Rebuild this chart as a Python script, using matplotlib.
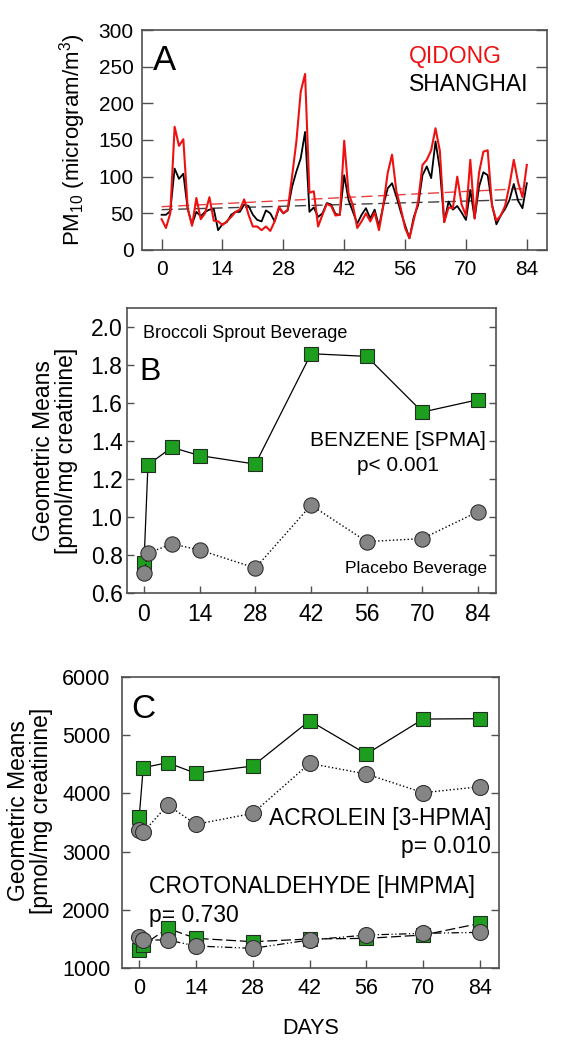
import numpy as np
import matplotlib
matplotlib.use('Agg')
import matplotlib.pyplot as plt

plt.rcParams['font.family'] = ['Liberation Sans', 'DejaVu Sans']
plt.rcParams['mathtext.fontset'] = 'custom'
plt.rcParams['mathtext.rm'] = 'Liberation Sans'
plt.rcParams['mathtext.it'] = 'Liberation Sans:italic'

# ---- panel A : daily PM10 ----
pm_days = np.arange(0, 85)
qidong = [42, 30, 50, 168, 142, 151, 57, 33, 71, 42, 50, 72, 40, 39, 34, 39, 45, 52, 55, 69,
          48, 32, 32, 27, 32, 26, 39, 59, 50, 55, 100, 148, 216, 240, 78, 80, 32, 48, 63, 60,
          47, 48, 149, 77, 61, 30, 39, 50, 39, 51, 27, 61, 105, 130, 80, 57, 30, 16, 41, 66,
          116, 123, 136, 166, 135, 38, 58, 57, 100, 62, 47, 123, 43, 105, 134, 136, 60, 40, 47, 60,
          88, 123, 92, 72, 116]
shanghai = [48, 48, 53, 111, 97, 104, 56, 35, 52, 46, 52, 55, 56, 27, 35, 38, 48, 52, 52, 62,
            60, 48, 41, 39, 54, 50, 39, 57, 50, 54, 86, 107, 125, 161, 52, 58, 45, 50, 64, 62,
            49, 48, 102, 68, 52, 36, 48, 57, 43, 55, 32, 61, 84, 91, 73, 52, 34, 16, 45, 61,
            102, 114, 98, 148, 110, 38, 66, 55, 60, 51, 41, 82, 43, 86, 106, 102, 62, 35, 47, 56,
            68, 90, 67, 57, 91]
trend_days = [0, 84]
qidong_trend = [59, 84]
shanghai_trend = [55, 69]

# ---- panels B, C : geometric means ----
visit_days = [0, 1, 7, 14, 28, 42, 56, 70, 84]
spma_broccoli = [0.758, 1.276, 1.368, 1.325, 1.280, 1.861, 1.847, 1.554, 1.619]
spma_placebo = [0.709, 0.811, 0.860, 0.828, 0.733, 1.064, 0.872, 0.888, 1.030]
hpma_broccoli = [3589, 4440, 4526, 4343, 4469, 5246, 4674, 5274, 5280]
hpma_placebo = [3371, 3331, 3800, 3469, 3657, 4514, 4331, 4011, 4114]
hmpma_broccoli = [1314, 1400, 1686, 1514, 1457, 1503, 1514, 1571, 1771]
hmpma_placebo = [1543, 1486, 1486, 1383, 1343, 1486, 1571, 1600, 1617]
xticks = [0, 14, 28, 42, 56, 70, 84]

green = '#1e9e1e'
grey = '#858585'
spine_c = '#505050'

fig = plt.figure(figsize=(5.75, 10.49), dpi=100)


def style(ax, size, ticklen, pad):
    for s in ax.spines.values():
        s.set_color(spine_c)
        s.set_linewidth(1.2)
    ax.tick_params(direction='in', length=ticklen, width=1.0, color=spine_c,
                   labelsize=size, right=True, top=False, pad=pad)
    ax.set_xticks(xticks)


# A
axA = fig.add_axes([0.247, 0.7617, 0.704, 0.2097])
axA.plot(trend_days, qidong_trend, color='#e84040', lw=1.0, dashes=(8, 4))
axA.plot(trend_days, shanghai_trend, color='#404040', lw=1.0, dashes=(8, 4))
axA.plot(pm_days, shanghai, color='black', lw=1.3)
axA.plot(pm_days, qidong, color='#ee1111', lw=1.5)
axA.set_xlim(-4.5, 88.6)
axA.set_ylim(0, 300)
axA.set_yticks(range(0, 301, 50))
style(axA, 15, 8, 6)
axA.set_ylabel('PM$_{10}$ (microgram/m$^3$)', fontsize=16)
axA.yaxis.set_label_coords(-0.133, 0.5)
axA.text(0.027, 0.818, 'A', transform=axA.transAxes, fontsize=25)
axA.text(0.66, 0.85, 'QIDONG', transform=axA.transAxes, fontsize=16.5, color='#ee1111')
axA.text(0.66, 0.724, 'SHANGHAI', transform=axA.transAxes, fontsize=16.5, color='black')

# B
axB = fig.add_axes([0.2203, 0.4344, 0.6417, 0.2717])
axB.plot(visit_days, spma_broccoli, color='black', lw=0.9, marker='s', ms=9.5,
         mfc=green, mec='#203020', mew=0.8)
axB.plot(visit_days, spma_placebo, color='black', lw=1.0, ls=':', marker='o', ms=11,
         mfc=grey, mec='#303030', mew=0.8)
axB.set_xlim(-4.35, 88.4)
axB.set_ylim(0.6, 2.1)
axB.set_yticks(np.arange(0.6, 2.01, 0.2))
axB.set_yticklabels(['%.1f' % v for v in np.arange(0.6, 2.01, 0.2)])
style(axB, 16.5, 5, 3)
axB.set_ylabel('Geometric Means\n[pmol/mg creatinine]', fontsize=16.5, linespacing=1.0)
axB.yaxis.set_label_coords(-0.132, 0.5)
axB.text(0.043, 0.895, 'Broccoli Sprout Beverage', transform=axB.transAxes, fontsize=13)
axB.text(0.034, 0.748, 'B', transform=axB.transAxes, fontsize=23)
axB.text(0.734, 0.518, 'BENZENE [SPMA]', transform=axB.transAxes, fontsize=15, ha='center')
axB.text(0.734, 0.429, 'p< 0.001', transform=axB.transAxes, fontsize=15, ha='center')
axB.text(0.977, 0.070, 'Placebo Beverage', transform=axB.transAxes, fontsize=12.5, ha='right')

# C
axC = fig.add_axes([0.2117, 0.0769, 0.6562, 0.278])
axC.plot(visit_days, hpma_broccoli, color='black', lw=0.9, marker='s', ms=9.6,
         mfc=green, mec='#203020', mew=0.8)
axC.plot(visit_days, hmpma_broccoli, color='black', lw=0.9, dashes=(8, 3), marker='s', ms=9.6,
         mfc=green, mec='#203020', mew=0.8)
axC.plot(visit_days, hpma_placebo, color='black', lw=1.0, ls=':', marker='o', ms=11.5,
         mfc=grey, mec='#303030', mew=0.8)
axC.plot(visit_days, hmpma_placebo, color='black', lw=0.9, dashes=(6, 2, 1, 2, 1, 2), marker='o',
         ms=11.5, mfc=grey, mec='#303030', mew=0.8)
axC.set_xlim(-4.3, 88.7)
axC.set_ylim(1000, 6000)
axC.set_yticks(range(1000, 6001, 1000))
style(axC, 15.5, 6, 8)
axC.set_ylabel('Geometric Means\n[pmol/mg creatinine]', fontsize=16.5, linespacing=1.0)
axC.yaxis.set_label_coords(-0.181, 0.54)
axC.set_xlabel('DAYS', fontsize=15.5, labelpad=14)
axC.text(0.025, 0.857, 'C', transform=axC.transAxes, fontsize=24)
axC.text(0.981, 0.491, 'ACROLEIN [3-HPMA]', transform=axC.transAxes, fontsize=16.5, ha='right')
axC.text(0.978, 0.394, 'p= 0.010', transform=axC.transAxes, fontsize=16.5, ha='right')
axC.text(0.073, 0.257, 'CROTONALDEHYDE [HMPMA]', transform=axC.transAxes, fontsize=16.5)
axC.text(0.073, 0.160, 'p= 0.730', transform=axC.transAxes, fontsize=16.5)

for ax in (axA, axB, axC):
    ax.tick_params(axis='x', pad=7)

fig.savefig('out.png', dpi=100)
